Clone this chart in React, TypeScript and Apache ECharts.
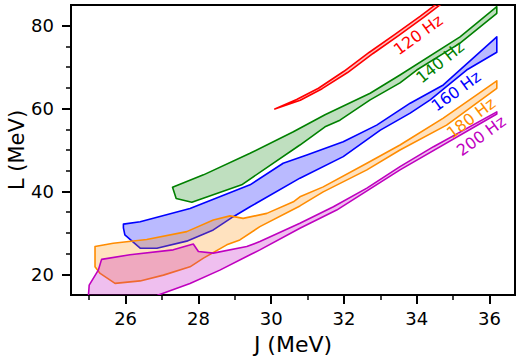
import React, { useEffect, useRef } from "react";
import * as echarts from "echarts";

// Axis ranges and ticks
const X_MIN = 24.5;
const X_MAX = 36.7;
const Y_MIN = 15;
const Y_MAX = 85;
const xMajorTicks = [26, 28, 30, 32, 34, 36];
const xMinorTicks = [25, 27, 29, 31, 33, 35];
const yMajorTicks = [20, 40, 60, 80];
const yMinorTicks = [25, 30, 35, 45, 50, 55, 65, 70, 75];

// Allowed (J, L) regions, one closed outline per frequency
const band120: number[][] = [
  [30.1, 59.9], [30.7, 62.2], [31.3, 64.9], [32.0, 69.0], [32.7, 73.6], [33.4, 77.9],
  [34.1, 82.3], [34.7, 86.3], [35.2, 90.0],
  [35.35, 90.0], [34.8, 86.1], [34.2, 82.1], [33.5, 77.6], [32.8, 73.3], [32.1, 68.7],
  [31.4, 64.8], [30.8, 62.0],
];
const band140: number[][] = [
  [27.29, 41.0], [28.14, 44.0], [29.42, 49.2], [30.61, 54.4], [31.48, 58.5], [32.72, 63.7],
  [33.54, 68.1], [35.19, 77.3], [36.2, 84.6],
  [36.2, 83.0], [35.19, 75.8], [34.0, 69.3], [33.54, 66.2], [32.72, 62.1], [31.89, 57.2],
  [31.48, 55.6], [30.79, 51.2], [29.19, 41.6], [27.82, 37.4], [27.39, 38.3],
];
const band160: number[][] = [
  [25.94, 32.1], [26.4, 32.7], [27.77, 35.9], [28.69, 39.1], [29.42, 41.6], [30.33, 46.8],
  [30.98, 48.8], [31.98, 52.0], [32.9, 56.0], [33.82, 61.3], [34.73, 65.7], [36.2, 77.3],
  [36.2, 73.6], [35.37, 69.3], [34.37, 62.1], [33.82, 58.9], [33.0, 54.8], [31.98, 48.4],
  [30.79, 43.2], [29.42, 36.3], [28.96, 33.9], [28.41, 30.7], [27.68, 28.0], [26.86, 26.3],
  [26.4, 26.3], [25.98, 29.5], [25.94, 31.2],
];
const band180: number[][] = [
  [25.16, 26.7], [25.66, 27.5], [26.58, 28.4], [27.68, 30.3], [28.41, 33.1], [28.87, 34.1],
  [29.23, 33.5], [29.88, 34.7], [30.61, 37.5], [30.79, 38.7], [31.43, 41.1], [32.63, 46.8],
  [33.54, 51.2], [34.73, 57.7], [36.2, 66.7],
  [36.2, 64.9], [34.82, 56.0], [33.54, 50.0], [32.63, 45.2], [31.43, 39.9], [30.79, 36.5],
  [29.69, 31.5], [29.14, 28.3], [28.78, 27.1], [28.14, 23.9], [27.77, 21.8], [27.04, 19.8],
  [26.4, 18.4], [25.71, 17.8], [25.3, 20.2], [25.16, 21.8],
];
const band200: number[][] = [
  [25.34, 23.6], [26.12, 24.7], [27.31, 25.9], [27.86, 27.3], [28.0, 25.5], [28.41, 25.1],
  [29.33, 26.7], [29.69, 27.9], [30.79, 32.3], [31.71, 36.3], [32.63, 40.8], [33.54, 46.0],
  [34.46, 50.8], [36.2, 59.2],
  [36.2, 58.7], [33.54, 45.2], [31.8, 35.5], [30.79, 31.1], [29.69, 25.9], [29.42, 24.7],
  [28.59, 21.0], [27.77, 17.8], [26.9, 15.0], [26.4, 12.6],
  [24.94, 12.6], [24.98, 15.0], [25.0, 17.4], [25.25, 21.0],
];

const bandNames = ["120 Hz", "140 Hz", "160 Hz", "180 Hz", "200 Hz"];
const bands = [band120, band140, band160, band180, band200];

// Styling (kept apart from the data)
const COLORS = ["#ff0000", "#008000", "#0000ff", "#ff8c00", "#bf00bf"];
const FILLS = [
  "rgba(255,0,0,0.25)",
  "rgba(0,128,0,0.25)",
  "rgba(0,0,255,0.27)",
  "rgba(255,140,0,0.25)",
  "rgba(191,0,191,0.25)",
];
// label anchors in data units, with rotation in degrees
const LABEL_ANCHORS: number[][] = [
  [34.04, 77.8], [34.64, 71.2], [35.08, 64.2], [35.49, 57.7], [35.77, 53.4],
];
const LABEL_ROT = [36, 39, 36, 37, 36];

const FONT = "DejaVu Sans";

export default function App() {
  const ref = useRef<HTMLDivElement>(null);
  useEffect(() => {
    if (!ref.current) return;
    const chart = echarts.init(ref.current, undefined, { renderer: "svg" });

    const polySeries = bands.map((band, i) => ({
      type: "custom",
      name: bandNames[i],
      coordinateSystem: "cartesian2d",
      xAxisIndex: 0,
      yAxisIndex: 0,
      clip: true,
      z: 2 + i,
      data: band,
      renderItem: (params: any, api: any) => {
        if (params.dataIndex !== 0) return null;
        const pts = band.map((p) => api.coord(p));
        return {
          type: "polygon",
          shape: { points: pts },
          style: {
            fill: FILLS[i],
            stroke: COLORS[i],
            lineWidth: 1.6,
            lineJoin: "round",
          },
        };
      },
    }));

    const labelSeries = {
      type: "custom",
      coordinateSystem: "cartesian2d",
      xAxisIndex: 0,
      yAxisIndex: 0,
      z: 20,
      data: LABEL_ANCHORS,
      renderItem: (params: any, api: any) => {
        const i = params.dataIndex;
        const p = api.coord(LABEL_ANCHORS[i]);
        return {
          type: "text",
          x: p[0],
          y: p[1],
          rotation: (LABEL_ROT[i] * Math.PI) / 180,
          style: {
            text: bandNames[i],
            fill: COLORS[i],
            fontSize: 16,
            fontFamily: FONT,
            align: "center",
            verticalAlign: "middle",
          },
        };
      },
    };

    const majorTick = { show: true, inside: false, length: 9, lineStyle: { color: "#000", width: 2 } };
    const minorTick = { show: true, inside: false, length: 5, lineStyle: { color: "#000", width: 1.5 } };

    chart.setOption({
      animation: false,
      grid: {
        left: 71,
        right: 6,
        top: 5,
        bottom: 65,
        containLabel: false,
        outerBoundsMode: "none",
        show: true,
        borderColor: "#000",
        borderWidth: 2,
        backgroundColor: "transparent",
      },
      xAxis: [
        {
          type: "value",
          min: X_MIN,
          max: X_MAX,
          position: "bottom",
          axisLine: { show: false },
          splitLine: { show: false },
          axisTick: { ...majorTick, customValues: xMajorTicks },
          axisLabel: {
            customValues: xMajorTicks,
            fontSize: 18,
            fontFamily: FONT,
            color: "#000",
            margin: 14,
          },
          name: "J (MeV)",
          nameLocation: "middle",
          nameGap: 38,
          nameMoveOverlap: false,
          nameTextStyle: { fontSize: 22, fontFamily: FONT, color: "#000" },
        },
        {
          type: "value",
          min: X_MIN,
          max: X_MAX,
          position: "bottom",
          axisLine: { show: false },
          splitLine: { show: false },
          axisTick: { ...minorTick, customValues: xMinorTicks },
          axisLabel: { show: false },
        },
      ],
      yAxis: [
        {
          type: "value",
          min: Y_MIN,
          max: Y_MAX,
          position: "left",
          axisLine: { show: false },
          splitLine: { show: false },
          axisTick: { ...majorTick, customValues: yMajorTicks },
          axisLabel: {
            customValues: yMajorTicks,
            fontSize: 18,
            fontFamily: FONT,
            color: "#000",
            margin: 17,
          },
          name: "L (MeV)",
          nameLocation: "middle",
          nameGap: 44,
          nameMoveOverlap: false,
          nameTextStyle: { fontSize: 21, fontFamily: FONT, color: "#000" },
        },
        {
          type: "value",
          min: Y_MIN,
          max: Y_MAX,
          position: "left",
          axisLine: { show: false },
          splitLine: { show: false },
          axisTick: { ...minorTick, customValues: yMinorTicks },
          axisLabel: { show: false },
        },
      ],
      series: [...polySeries, labelSeries],
    });
    return () => chart.dispose();
  }, []);

  return (
    <div
      ref={ref}
      style={{ position: "fixed", left: 0, top: 0, width: 521, height: 360, background: "#fff" }}
    />
  );
}
